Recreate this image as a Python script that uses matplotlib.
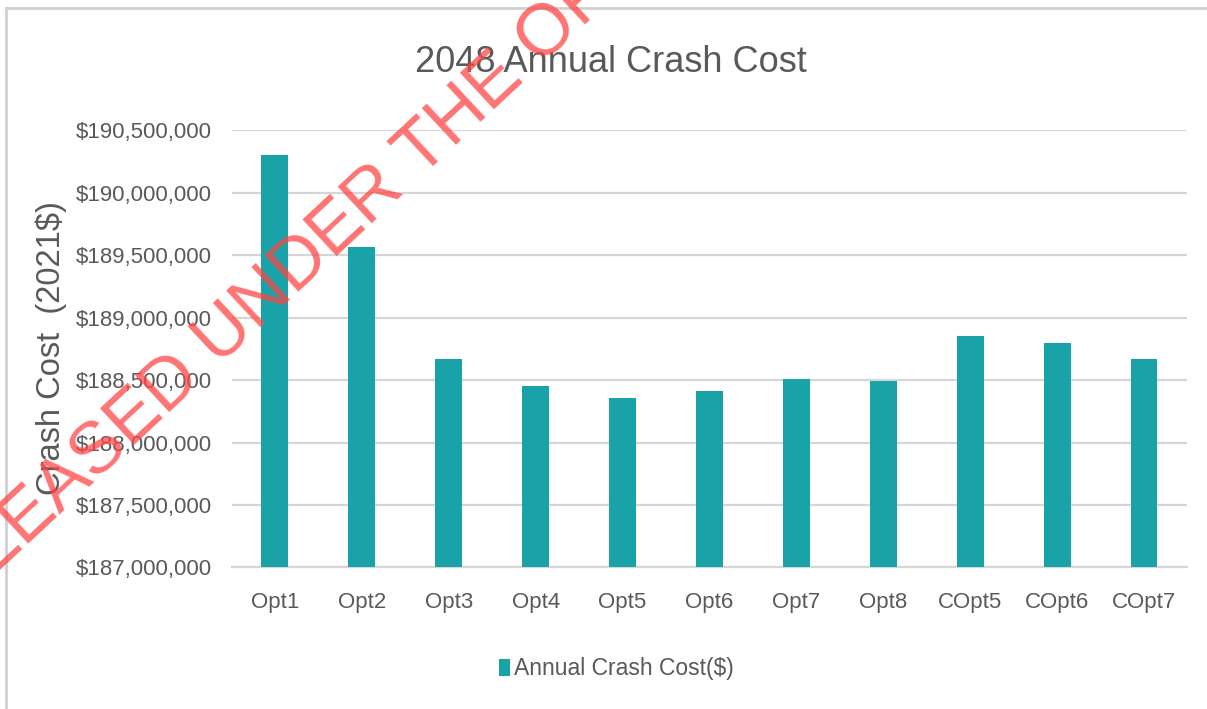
import matplotlib.pyplot as plt
from matplotlib.lines import Line2D
from matplotlib.ticker import FuncFormatter, MultipleLocator

# values
options = ["Opt1", "Opt2", "Opt3", "Opt4", "Opt5", "Opt6", "Opt7", "Opt8",
           "COpt5", "COpt6", "COpt7"]
crash_cost = [190304000, 189566000, 188668000, 188455000, 188354000, 188410000,
              188508000, 188497000, 188850000, 188800000, 188666000]

teal = "#19a3a8"
text_grey = "#595959"
sans = ["Liberation Sans", "DejaVu Sans"]

fig = plt.figure(figsize=(12.07, 7.09), dpi=100)
ax = fig.add_axes([0.1918, 0.1996, 0.792, 0.6164])

x = range(len(options))
ax.bar(x, crash_cost, width=0.31, color=teal, zorder=3,
       label="Annual Crash Cost($)")

ax.set_xlim(-0.5, len(options) - 0.5)
ax.set_ylim(187000000, 190500000)
ax.yaxis.set_major_locator(MultipleLocator(500000))
ax.yaxis.set_major_formatter(FuncFormatter(lambda v, p: f"${v:,.0f}"))
ax.set_xticks(list(x))
ax.set_xticklabels(options)

for lbl in ax.get_xticklabels() + ax.get_yticklabels():
    lbl.set_family(sans)
    lbl.set_fontsize(16)
    lbl.set_color(text_grey)
ax.tick_params(axis="both", length=0)
ax.tick_params(axis="x", pad=18)
ax.tick_params(axis="y", pad=14)

ax.grid(axis="y", color="#d6d6d6", linewidth=1.6, zorder=0)
for s in ["top", "right", "left"]:
    ax.spines[s].set_visible(False)
ax.spines["bottom"].set_color("#d6d6d6")
ax.spines["bottom"].set_linewidth(1.6)

ax.set_ylabel("Crash Cost  (2021$)", family=sans, fontsize=23.5,
              color=text_grey, va="center")
ax.yaxis.set_label_coords(51 / 1207, 1 - 348 / 709, transform=fig.transFigure)

fig.text(611 / 1207, 1 - 63 / 709, "2048 Annual Crash Cost", ha="center",
         va="center", family=sans, fontsize=26, color=text_grey)

leg = ax.legend(loc="center", bbox_to_anchor=(616 / 1207, 1 - 669 / 709),
                bbox_transform=fig.transFigure, frameon=False,
                handlelength=0.5, handleheight=0.7, handletextpad=0.15,
                prop={"family": sans, "size": 16.5})
for t in leg.get_texts():
    t.set_color(text_grey)

# outer chart frame
fig.add_artist(Line2D([6 / 1207, 1], [1 - 8 / 709, 1 - 8 / 709],
                      transform=fig.transFigure, color="#d0d0d0", linewidth=2))
fig.add_artist(Line2D([6 / 1207, 6 / 1207], [0, 1 - 8 / 709],
                      transform=fig.transFigure, color="#d0d0d0", linewidth=2))

# watermark
fig.text(-78 / 1207, 1 - 643 / 709, "RELEASED UNDER THE OFFICIAL INFORMATION ACT",
         rotation=43, rotation_mode="anchor", ha="left", va="baseline",
         family=sans, fontsize=52, color="#ff4545", alpha=0.75, zorder=10)

fig.savefig("out.png", dpi=100)
